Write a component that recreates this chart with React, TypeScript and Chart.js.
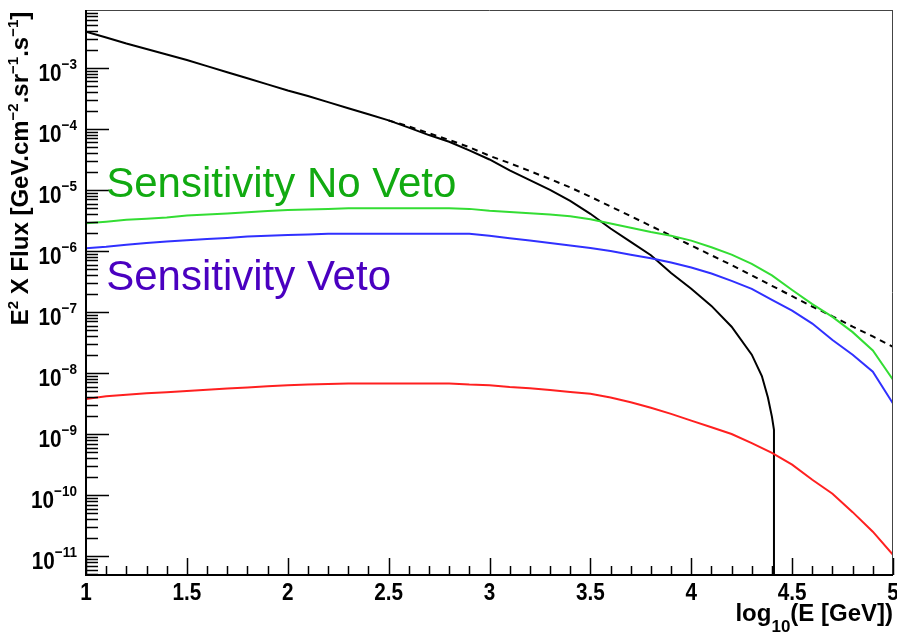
import React, { useEffect, useRef } from "react";
import { Chart, registerables } from "chart.js";

Chart.register(...registerables);

// ---- data ----
const xBins = [
  1.0, 1.1, 1.2, 1.3, 1.4, 1.5, 1.6, 1.7, 1.8, 1.9,
  2.0, 2.1, 2.2, 2.3, 2.4, 2.5, 2.6, 2.7, 2.8, 2.9,
  3.0, 3.1, 3.2, 3.3, 3.4, 3.5, 3.6, 3.7, 3.8, 3.9,
  4.0, 4.1, 4.2, 4.3, 4.4, 4.5, 4.6, 4.7, 4.8, 4.9,
  5.0,
];

const blackX = [
  1.0, 1.1, 1.2, 1.3, 1.4, 1.5, 1.6, 1.7, 1.8, 1.9,
  2.0, 2.1, 2.2, 2.3, 2.4, 2.5, 2.6, 2.7, 2.8, 2.9,
  3.0, 3.1, 3.2, 3.3, 3.4, 3.5, 3.6, 3.7, 3.8, 3.9,
  4.0, 4.1, 4.2, 4.3, 4.35, 4.38, 4.40, 4.41, 4.41,
];
const blackFlux = [
  3.94e-3, 3.16e-3, 2.51e-3, 2.04e-3, 1.66e-3, 1.35e-3, 1.07e-3, 8.51e-4, 6.76e-4, 5.37e-4,
  4.27e-4, 3.47e-4, 2.75e-4, 2.19e-4, 1.74e-4, 1.38e-4, 1.05e-4, 7.94e-5, 6.17e-5, 4.47e-5,
  3.16e-5, 2.09e-5, 1.45e-5, 1.0e-5, 6.61e-6, 4.07e-6, 2.34e-6, 1.41e-6, 8.51e-7, 4.37e-7,
  2.40e-7, 1.26e-7, 5.75e-8, 2.0e-8, 8.91e-9, 3.98e-9, 1.91e-9, 1.17e-9, 1e-15,
];

const dashedX = [
  2.5, 2.6, 2.7, 2.8, 2.9, 3.0, 3.1, 3.2, 3.3, 3.4, 3.5, 3.6, 3.7,
  3.8, 3.9, 4.0, 4.1, 4.2, 4.3, 4.4, 4.5, 4.6, 4.7, 4.8, 4.9, 5.0,
];
const dashedFlux = [
  1.38e-4, 1.10e-4, 8.51e-5, 6.61e-5, 5.01e-5, 3.63e-5, 2.75e-5, 2.04e-5, 1.51e-5, 1.10e-5,
  7.76e-6, 5.37e-6, 3.72e-6, 2.57e-6, 1.78e-6, 1.23e-6, 8.51e-7, 5.89e-7, 3.98e-7, 2.69e-7,
  1.82e-7, 1.23e-7, 8.51e-8, 5.75e-8, 3.98e-8, 2.69e-8,
];

const greenFlux = [
  2.84e-6, 3.02e-6, 3.24e-6, 3.39e-6, 3.55e-6, 3.80e-6, 3.98e-6, 4.12e-6, 4.32e-6, 4.52e-6,
  4.68e-6, 4.79e-6, 4.90e-6, 5.01e-6, 5.01e-6, 5.01e-6, 5.01e-6, 5.01e-6, 5.01e-6, 4.90e-6,
  4.57e-6, 4.37e-6, 4.17e-6, 3.98e-6, 3.72e-6, 3.31e-6, 2.82e-6, 2.40e-6, 2.04e-6, 1.78e-6,
  1.48e-6, 1.15e-6, 8.71e-7, 6.17e-7, 3.98e-7, 2.29e-7, 1.35e-7, 8.32e-8, 4.68e-8, 2.34e-8,
  7.76e-9,
];

const blueFlux = [
  1.11e-6, 1.17e-6, 1.26e-6, 1.35e-6, 1.43e-6, 1.50e-6, 1.57e-6, 1.64e-6, 1.72e-6, 1.78e-6,
  1.82e-6, 1.86e-6, 1.91e-6, 1.91e-6, 1.91e-6, 1.91e-6, 1.91e-6, 1.91e-6, 1.91e-6, 1.91e-6,
  1.78e-6, 1.62e-6, 1.48e-6, 1.35e-6, 1.23e-6, 1.12e-6, 1.0e-6, 8.71e-7, 7.59e-7, 6.46e-7,
  5.37e-7, 4.27e-7, 3.24e-7, 2.40e-7, 1.58e-7, 1.05e-7, 6.46e-8, 3.47e-8, 2.0e-8, 1.05e-8,
  3.16e-9,
];

const redFlux = [
  3.75e-9, 4.17e-9, 4.42e-9, 4.68e-9, 4.84e-9, 5.07e-9, 5.31e-9, 5.56e-9, 5.82e-9, 6.10e-9,
  6.31e-9, 6.46e-9, 6.61e-9, 6.76e-9, 6.76e-9, 6.76e-9, 6.76e-9, 6.76e-9, 6.76e-9, 6.46e-9,
  6.31e-9, 5.89e-9, 5.62e-9, 5.25e-9, 4.90e-9, 4.57e-9, 3.98e-9, 3.31e-9, 2.69e-9, 2.14e-9,
  1.66e-9, 1.29e-9, 1.0e-9, 7.08e-10, 4.90e-10, 3.16e-10, 1.78e-10, 1.05e-10, 5.25e-11, 2.51e-11,
  1.05e-11,
];

const yDecades = [-11, -10, -9, -8, -7, -6, -5, -4, -3];
const xMajorTicks = [1, 1.5, 2, 2.5, 3, 3.5, 4, 4.5, 5];
const xTickLabels = ["1", "1.5", "2", "2.5", "3", "3.5", "4", "4.5", "5"];
const xMinorTicks = [
  1.1, 1.2, 1.3, 1.4, 1.6, 1.7, 1.8, 1.9, 2.1, 2.2, 2.3, 2.4, 2.6, 2.7, 2.8, 2.9,
  3.1, 3.2, 3.3, 3.4, 3.6, 3.7, 3.8, 3.9, 4.1, 4.2, 4.3, 4.4, 4.6, 4.7, 4.8, 4.9,
];
const Y_MIN = 4.9e-12;
const Y_MAX = 8.9e-3;

const labelNoVeto = "Sensitivity No Veto";
const labelVeto = "Sensitivity Veto";

const FONT = '"Liberation Sans", Arial, Helvetica, sans-serif';

type Part = { t: string; size: number; dy: number };

function drawRich(
  ctx: CanvasRenderingContext2D,
  parts: Part[],
  x: number,
  y: number,
  align: "left" | "right" | "center",
  sx: number,
  weight: string
) {
  let total = 0;
  const widths = parts.map((p) => {
    ctx.font = `${weight} ${p.size}px ${FONT}`;
    const w = ctx.measureText(p.t).width;
    total += w;
    return w;
  });
  ctx.save();
  ctx.translate(x, y);
  ctx.scale(sx, 1);
  let cx = align === "left" ? 0 : align === "right" ? -total : -total / 2;
  ctx.textAlign = "left";
  ctx.textBaseline = "alphabetic";
  parts.forEach((p, i) => {
    ctx.font = `${weight} ${p.size}px ${FONT}`;
    ctx.fillText(p.t, cx, p.dy);
    cx += widths[i];
  });
  ctx.restore();
}

const rootStyle = {
  id: "rootStyle",
  afterDatasetsDraw(chart: any) {
    const { ctx, chartArea, scales } = chart;
    const { left, right, top, bottom } = chartArea;
    const xs = scales.x;
    const ys = scales.y;
    ctx.save();
    ctx.fillStyle = "#000";
    ctx.strokeStyle = "#000";

    // frame
    ctx.lineWidth = 1;
    ctx.strokeStyle = "#444";
    ctx.beginPath();
    ctx.moveTo(left, top + 0.5);
    ctx.lineTo(right, top + 0.5);
    ctx.moveTo(right - 0.5, top);
    ctx.lineTo(right - 0.5, bottom);
    ctx.stroke();
    ctx.strokeStyle = "#000";
    ctx.lineWidth = 2;
    ctx.beginPath();
    ctx.moveTo(left, top);
    ctx.lineTo(left, bottom);
    ctx.lineTo(right, bottom);
    ctx.stroke();

    // y ticks (inside)
    ctx.lineWidth = 1.5;
    ctx.beginPath();
    for (let n = -12; n <= -2; n++) {
      for (let m = 1; m <= 9; m++) {
        const v = m * Math.pow(10, n);
        if (v < Y_MIN || v > Y_MAX) continue;
        const py = Math.round(ys.getPixelForValue(v)) + 0.5;
        const len = m === 1 ? 23 : 12;
        ctx.moveTo(left, py);
        ctx.lineTo(left + len, py);
      }
    }
    // x ticks (inside)
    xMajorTicks.forEach((v) => {
      const px = Math.round(xs.getPixelForValue(v)) + 0.5;
      ctx.moveTo(px, bottom);
      ctx.lineTo(px, bottom - 17);
    });
    xMinorTicks.forEach((v) => {
      const px = Math.round(xs.getPixelForValue(v)) + 0.5;
      ctx.moveTo(px, bottom);
      ctx.lineTo(px, bottom - 9);
    });
    ctx.stroke();

    // y tick labels
    yDecades.forEach((n) => {
      const py = ys.getPixelForValue(Math.pow(10, n));
      drawRich(
        ctx,
        [
          { t: "10", size: 23, dy: 0 },
          { t: "\u2212" + Math.abs(n), size: 15, dy: -12 },
        ],
        77,
        py + 13,
        "right",
        0.9,
        "bold"
      );
    });

    // x tick labels
    xMajorTicks.forEach((v, i) => {
      const px = xs.getPixelForValue(v);
      drawRich(ctx, [{ t: xTickLabels[i], size: 23, dy: 0 }], px, bottom + 25, "center", 0.9, "bold");
    });

    // x title
    drawRich(
      ctx,
      [
        { t: "log", size: 24, dy: 0 },
        { t: "10", size: 17, dy: 11 },
        { t: "(E [GeV])", size: 24, dy: 0 },
      ],
      right,
      bottom + 46,
      "right",
      1,
      "bold"
    );

    // y title
    ctx.save();
    ctx.translate(28, (top + 327) / 2);
    ctx.rotate(-Math.PI / 2);
    drawRich(
      ctx,
      [
        { t: "E", size: 24, dy: 0 },
        { t: "2", size: 15, dy: -10 },
        { t: " X Flux [GeV.cm", size: 24, dy: 0 },
        { t: "\u22122", size: 15, dy: -10 },
        { t: ".sr", size: 24, dy: 0 },
        { t: "\u22121", size: 15, dy: -10 },
        { t: ".s", size: 24, dy: 0 },
        { t: "\u22121", size: 15, dy: -10 },
        { t: "]", size: 24, dy: 0 },
      ],
      0,
      0,
      "center",
      1,
      "bold"
    );
    ctx.restore();

    // annotations
    const ax = xs.getPixelForValue(1.1);
    ctx.fillStyle = "#11aa11";
    drawRich(ctx, [{ t: labelNoVeto, size: 42, dy: 0 }], ax, ys.getPixelForValue(7.7e-6), "left", 1, "normal");
    ctx.fillStyle = "#4a00c0";
    drawRich(ctx, [{ t: labelVeto, size: 42, dy: 0 }], ax, ys.getPixelForValue(2.3e-7), "left", 1, "normal");

    ctx.restore();
  },
};

const pts = (xs: number[], ys: number[]) => xs.map((x, i) => ({ x, y: ys[i] }));

export default function App() {
  const ref = useRef<HTMLCanvasElement | null>(null);
  useEffect(() => {
    if (!ref.current) return;
    const chart = new Chart(ref.current, {
      type: "line",
      data: {
        datasets: [
          { data: pts(xBins, redFlux), borderColor: "#ff2020", borderWidth: 2 },
          { data: pts(xBins, blueFlux), borderColor: "#3030ff", borderWidth: 2 },
          { data: pts(xBins, greenFlux), borderColor: "#33dd33", borderWidth: 2 },
          { data: pts(dashedX, dashedFlux), borderColor: "#000", borderWidth: 2, borderDash: [6, 5] },
          { data: pts(blackX, blackFlux), borderColor: "#000", borderWidth: 2 },
        ] as any,
      },
      options: {
        animation: false,
        responsive: false,
        devicePixelRatio: 1,
        layout: { padding: { left: 0, right: 4, top: 10, bottom: 0 } },
        plugins: { legend: { display: false }, tooltip: { enabled: false } },
        elements: { point: { radius: 0 }, line: { tension: 0 } },
        scales: {
          x: {
            type: "linear",
            min: 1,
            max: 5,
            grid: { display: false },
            border: { display: false },
            ticks: { display: false },
            afterFit: (s: any) => {
              s.height = 58;
            },
          },
          y: {
            type: "logarithmic",
            min: Y_MIN,
            max: Y_MAX,
            bounds: "data",
            grid: { display: false },
            border: { display: false },
            ticks: { display: false },
            afterFit: (s: any) => {
              s.width = 86;
            },
          },
        },
      } as any,
      plugins: [rootStyle],
    });
    return () => chart.destroy();
  }, []);
  return (
    <div style={{ position: "absolute", left: 0, top: 0, width: 897, height: 633, background: "#fff" }}>
      <canvas ref={ref} width={897} height={633} style={{ display: "block" }} />
    </div>
  );
}
